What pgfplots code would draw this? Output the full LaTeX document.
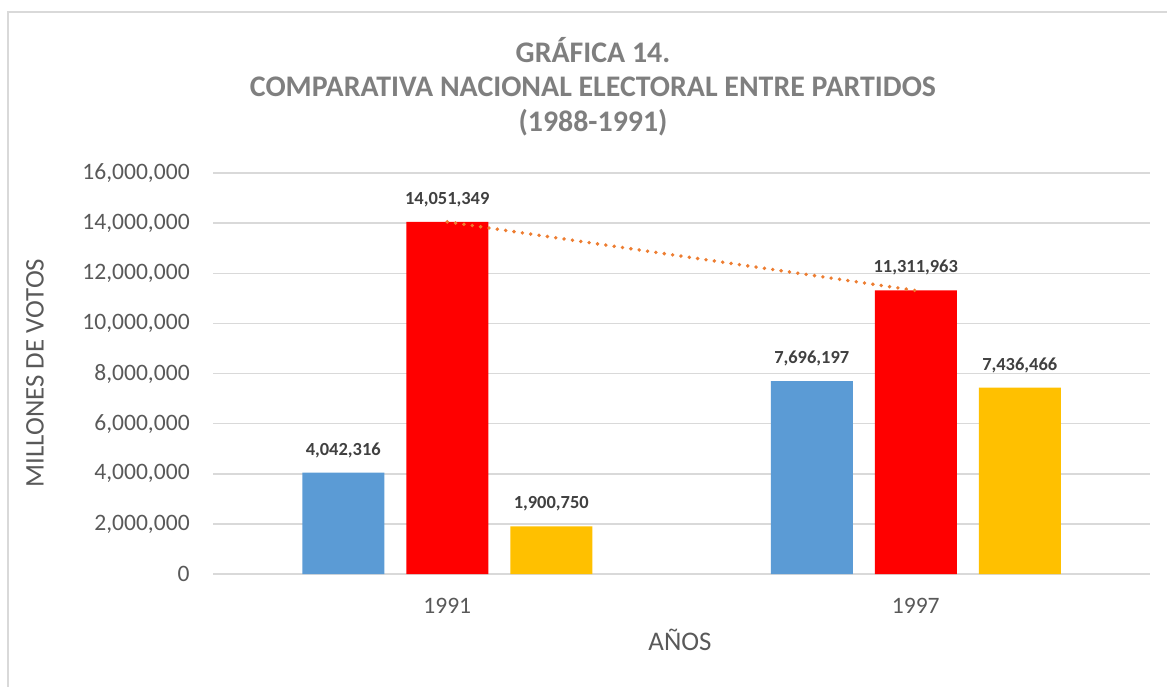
\documentclass[border=0pt]{standalone}
\usepackage{pgfplots}
\pgfplotsset{compat=1.18}
\usepackage{fontspec}
\setmainfont{Carlito}
\definecolor{barblue}{HTML}{5B9BD5}
\definecolor{barred}{HTML}{FF0000}
\definecolor{bargold}{HTML}{FFC000}
\definecolor{trendorange}{HTML}{ED7D31}
\definecolor{gridgray}{HTML}{D9D9D9}
\definecolor{ticktext}{HTML}{595959}
\definecolor{titletext}{HTML}{7F7F7F}
\definecolor{labeltext}{HTML}{404040}

\begin{document}
\begin{tikzpicture}
% page = 1167 x 687 px at 0.02 cm/px
\useasboundingbox (0,0) rectangle (23.34,-13.74);
\draw[gridgray, line width=0.03cm] (0.16,-15) -- (0.16,-0.24) -- (24,-0.24);

\node[titletext, font=\fontsize{17}{20}\selectfont\bfseries] at (11.86,-1.00) {GRÁFICA 14.};
\node[titletext, font=\fontsize{17}{20}\selectfont\bfseries] at (11.86,-1.74) {COMPARATIVA NACIONAL ELECTORAL ENTRE PARTIDOS};
\node[titletext, font=\fontsize{17}{20}\selectfont\bfseries] at (11.86,-2.46) {(1988-1991)};

\node[ticktext, rotate=90, font=\fontsize{15.3}{18}\selectfont] at (0.70,-7.46) {MILLONES DE VOTOS};
\node[ticktext, font=\fontsize{15.3}{18}\selectfont] at (13.6,-12.80) {AÑOS};

\begin{axis}[
    at={(4.26cm,-11.48cm)}, anchor=south west,
    scale only axis,
    width=18.74cm, height=8.02cm,
    ybar,
    xmin=-0.5, xmax=1.5,
    ymin=0, ymax=16000000,
    scaled y ticks=false,
    xtick={0,1}, xticklabels={1991,1997},
    ytick={0,2000000,4000000,6000000,8000000,10000000,12000000,14000000,16000000},
    yticklabels={0,{2,000,000},{4,000,000},{6,000,000},{8,000,000},{10,000,000},{12,000,000},{14,000,000},{16,000,000}},
    axis lines*=left,
    y axis line style={draw=none},
    x axis line style={draw=gridgray, line width=0.03cm},
    major tick length=0pt,
    ymajorgrids,
    major grid style={draw=gridgray, line width=0.03cm},
    tick label style={ticktext, font=\fontsize{13.4}{16}\selectfont, inner sep=0pt},
    xticklabel style={yshift=-0.48cm},
    yticklabel style={xshift=-0.46cm},
    bar width=1.64cm,
    point meta=explicit symbolic,
    every node near coord/.append style={labeltext, font=\fontsize{10.5}{12}\selectfont\bfseries, inner sep=0pt, anchor=base, yshift=0.35cm},
    clip=false,
]
\addplot[fill=barblue, draw=none, bar shift=-2.08cm, nodes near coords]
    coordinates {(0,4042316) [{4,042,316}] (1,7696197) [{7,696,197}]};
\addplot[fill=barred, draw=none, bar shift=0cm, nodes near coords]
    coordinates {(0,14051349) [{14,051,349}] (1,11311963) [{11,311,963}]};
\addplot[fill=bargold, draw=none, bar shift=2.08cm, nodes near coords]
    coordinates {(0,1900750) [{1,900,750}] (1,7436466) [{7,436,466}]};
\addplot[sharp plot, trendorange, line width=2.2pt, line cap=round, dash pattern=on 0pt off 4.8pt, mark=none]
    coordinates {(0,14051349) (1,11311963)};
\end{axis}
\end{tikzpicture}
\end{document}
